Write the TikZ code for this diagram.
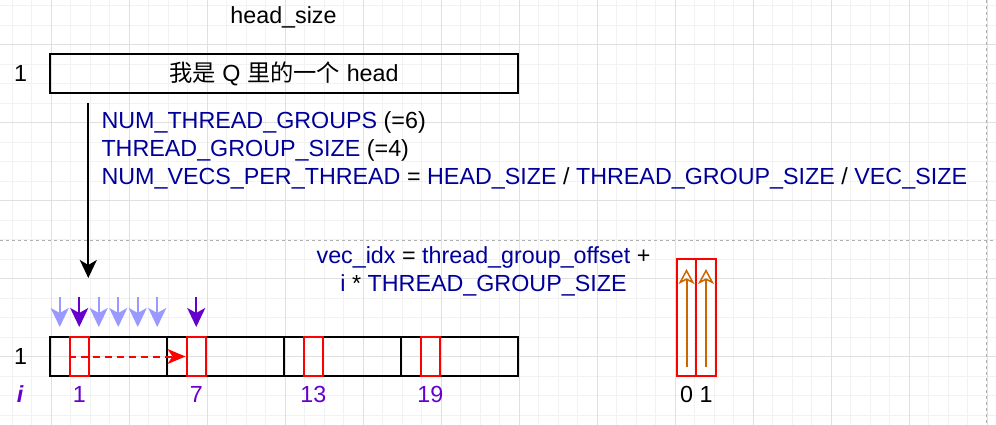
\documentclass[tikz,border=0pt]{standalone}
\usepackage{fontspec}
\setmainfont{Liberation Sans}
\newfontfamily\cjk{Noto Sans CJK SC}
\usepackage{tikz}
\usepackage{xcolor}
\usetikzlibrary{arrows.meta, positioning}
\definecolor{qblue}{HTML}{000099}
\definecolor{thrdark}{HTML}{6600CC}
\definecolor{thrlight}{HTML}{9999FF}
\definecolor{kout}{HTML}{CC6600}
\definecolor{gridminor}{HTML}{F2F2F2}
\definecolor{gridmajor}{HTML}{E0E0E0}
\definecolor{pageline}{HTML}{B0B0B0}
\newcommand{\kw}[1]{\textcolor{qblue}{#1}}

\begin{document}
\begin{tikzpicture}[x=1pt,y=-1pt,
  every node/.style={font=\fontsize{23.3}{28}\selectfont, inner sep=0pt},
  cell/.style={draw, line width=2pt, minimum height=39pt},
  redcell/.style={draw=red, line width=2pt, minimum width=19.5pt},
  thr/.style={line width=2pt, -{Stealth[length=19pt,width=18pt,inset=5pt]}},
  idx/.style={text=thrdark, anchor=base}]
  \useasboundingbox (0,0) rectangle (996,425);
  % grid
  \foreach \x in {12,31.5,...,996} \draw[gridminor] (\x,0) -- (\x,425);
  \foreach \y in {5.5,25,...,425} \draw[gridminor] (0,\y) -- (996,\y);
  \foreach \x in {51,129,...,996} \draw[gridmajor] (\x,0) -- (\x,425);
  \foreach \y in {44.5,122.5,...,425} \draw[gridmajor] (0,\y) -- (996,\y);
  % page borders
  \draw[pageline, dash pattern=on 3pt off 3pt] (986.5,0) -- (986.5,425);
  \draw[pageline, dash pattern=on 3pt off 3pt] (0,240.5) -- (996,240.5);
  % head of Q
  \node[anchor=base] (hsize) at (283.5,23.5) {head\_size};
  \node[cell, minimum width=468pt] (head) at (284,73.5) {{\cjk 我是} Q {\cjk 里的一个} head};
  \node[anchor=base] (qrow) at (20.5,81.7) {1};
  % sizes (base = last line)
  \node[anchor=base west, align=left, font=\fontsize{23.3}{28.5}\selectfont] (sizes) at (101.3,185)
    {\kw{NUM\_THREAD\_GROUPS} (=6)\\
     \kw{THREAD\_GROUP\_SIZE} (=4)\\
     \kw{NUM\_VECS\_PER\_THREAD} = \kw{HEAD\_SIZE} / \kw{THREAD\_GROUP\_SIZE} / \kw{VEC\_SIZE}};
  \coordinate (qs) at (88.3,103);
  \coordinate (qe) at (88.3,278);
  \draw[line width=2pt, -{Stealth[length=18pt,width=17pt,inset=5pt]}] (qs) -- (qe);
  % index formula
  \node[anchor=base, align=center] (vidx) at (483.5,291.5)
    {\kw{vec\_idx} = \kw{thread\_group\_offset} +\\
     \kw{i} * \kw{THREAD\_GROUP\_SIZE}};
  % row split into thread groups
  \foreach \g/\x in {0/108.5,1/225.5,2/342.5,3/459.5}
    \node[cell, minimum width=117pt] (seg\g) at (\x,356.5) {};
  \node[anchor=base] (krow) at (20.5,364.7) {1};
  \node[idx] (ilbl) at (20,402.5) {\bfseries\itshape i};
  \foreach \n/\x in {1/79.25,7/196.25,13/313.25,19/430.25}{
    \node[redcell, minimum height=39pt] (c\n) at (\x,356.5) {};
    \node[idx] (n\n) at (\x,402.5) {\n};
  }
  \draw[red, line width=2pt, dash pattern=on 7pt off 5pt, -{Stealth[length=18pt,width=15pt,inset=5pt]}] (c1.west) -- (c7.west);
  % threads
  \foreach \k/\col in {0/thrlight,1/thrdark,2/thrlight,3/thrlight,4/thrlight,5/thrlight}{
    \coordinate (ts\k) at ({59.75+19.5*\k},297);
    \coordinate (te\k) at ({59.75+19.5*\k},327);
    \draw[thr, \col] (ts\k) -- (te\k);
  }
  \coordinate (ts6) at (196.25,297);
  \coordinate (te6) at (196.25,327);
  \draw[thr, thrdark] (ts6) -- (te6);
  % K vectors
  \foreach \v/\x in {0/686.5,1/706}{
    \node[redcell, minimum height=117pt] (r\v) at (\x,317.5) {};
    \draw[kout, line width=2pt, -{Stealth[open,length=15pt,width=16pt,inset=4pt,line width=1.5pt]}]
      ([yshift=10pt]r\v.south) -- ([yshift=-11pt]r\v.north);
    \node[anchor=base] (k\v) at (\x,402.5) {\v};
  }
\end{tikzpicture}
\end{document}
